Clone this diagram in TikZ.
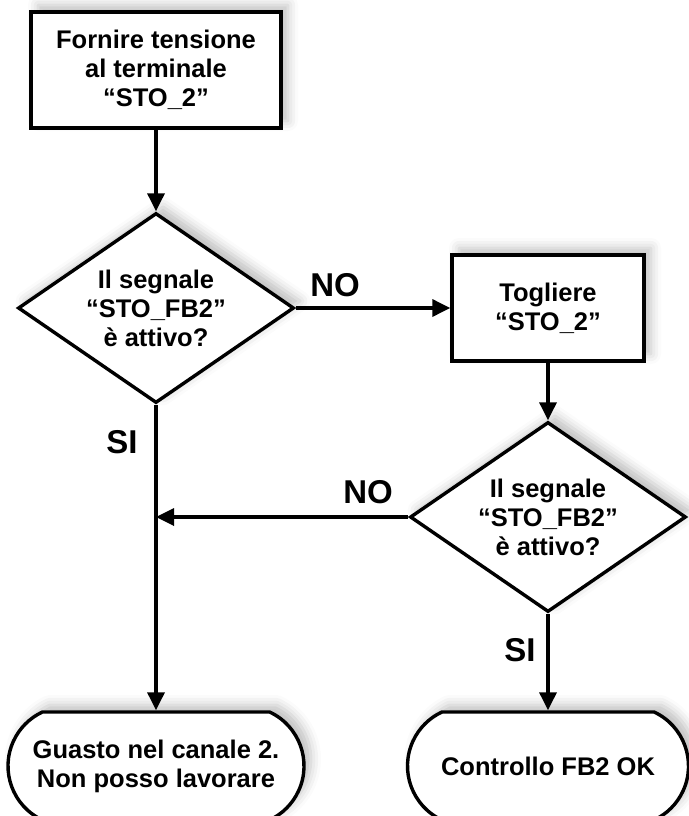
\documentclass[tikz,border=0pt]{standalone}
\usepackage{fontspec}
\setmainfont{Liberation Sans}
\usetikzlibrary{shapes.geometric, shapes.misc, arrows.meta, shadows.blur}

\tikzset{
  txt/.style={font=\fontsize{25.5}{29}\selectfont\bfseries, align=center},
  lbl/.style={font=\fontsize{33}{33}\selectfont\bfseries},
  soft/.style={blur shadow={shadow xshift=7pt, shadow yshift=7pt, shadow blur radius=10pt, shadow opacity=25}},
  procbox/.style={txt, soft, draw, fill=white, rectangle, inner sep=0pt},
  askbox/.style={txt, soft, draw, fill=white, diamond, inner sep=0pt, aspect=1.45,
    minimum width=276pt, minimum height=190pt},
  endbox/.style={txt, soft, draw, fill=white, rounded rectangle, rounded rectangle arc length=130,
    inner sep=0pt, minimum height=108pt}
}

\begin{document}
\begin{tikzpicture}[x=1pt,y=-1pt,line width=3.4pt,>={Triangle[length=18pt,width=17pt]}]
\useasboundingbox (0,0) rectangle (688,816);

% blocks
\node[procbox, minimum width=250pt, minimum height=116pt] (start) at (156,70)
  {Fornire tensione\\al terminale\\“STO\_2”};
\node[askbox] (ask1) at (156,308) {Il segnale\\“STO\_FB2”\\è attivo?};
\node[procbox, minimum width=192pt, minimum height=106pt] (remove) at (548,308)
  {Togliere\\“STO\_2”};
\node[askbox] (ask2) at (548,517) {Il segnale\\“STO\_FB2”\\è attivo?};
\node[endbox, minimum width=296pt] (fault) at (156,766)
  {Guasto nel canale 2.\\Non posso lavorare};
\node[endbox, minimum width=281pt] (ok) at (548,766) {Controllo FB2 OK};

\coordinate (join) at (156,517);

% connectors
\draw[->] (start.south) -- (ask1.north);
\draw[->] (ask1.east) -- (remove.west);
\draw[->] (remove.south) -- (ask2.north);
\draw[->] (ask2.west) -- (join);
\draw[->] (ask1.south) -- (fault.north);
\draw[->] (ask2.south) -- (ok.north);

% labels
\node[lbl] (no1) at (335,285) {NO};
\node[lbl] (no2) at (368,492) {NO};
\node[lbl] (si1) at (122,442) {SI};
\node[lbl] (si2) at (520,650) {SI};
\end{tikzpicture}
\end{document}
